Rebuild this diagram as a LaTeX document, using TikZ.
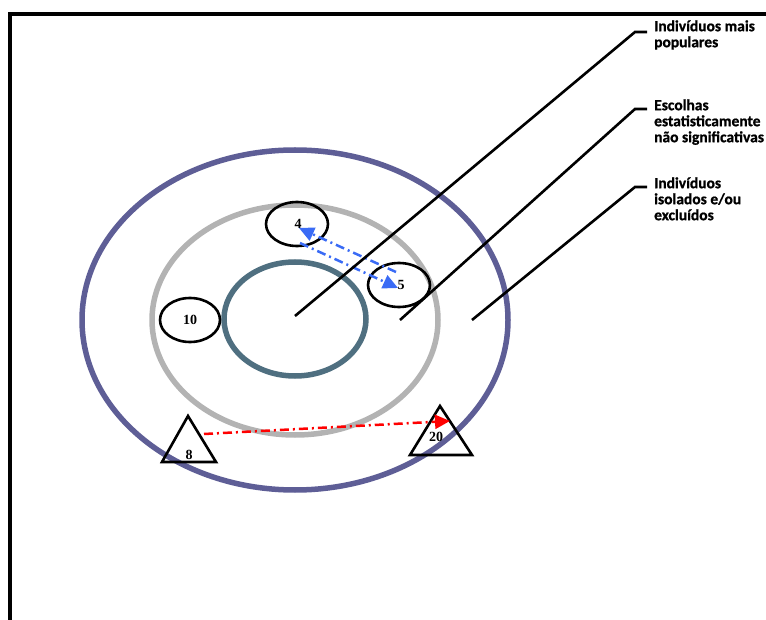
\documentclass[tikz,border=0pt]{standalone}
\usepackage{fontspec}
\setmainfont{Liberation Serif}
\newfontfamily\lblfont[FakeBold=1,UprightFont={* Bold}]{Carlito}
\usetikzlibrary{shapes.geometric,arrows.meta}
\definecolor{outerc}{HTML}{5E5E96}
\definecolor{midc}{HTML}{B3B3B3}
\definecolor{innerc}{HTML}{4F6F80}
\definecolor{bluec}{HTML}{3A6BF5}
\definecolor{redc}{HTML}{FF0000}
\newcommand{\toprule}{\rule{0pt}{14pt}}
\tikzset{
  ring/.style={line width=5.5pt},
  member/.style={draw=black, line width=2.6pt, ellipse, minimum width=62pt, minimum height=44pt, inner sep=0pt, font=\bfseries\fontsize{14}{14}\selectfont},
  tri/.style={draw=black, line width=2.6pt, line join=miter},
  num/.style={font=\bfseries\fontsize{14}{14}\selectfont, inner sep=0pt},
  leader/.style={draw=black, line width=2.6pt},
  lbl/.style={anchor=north west, align=left, inner sep=0pt, font=\lblfont\fontsize{15.5}{16}\selectfont},
  dashdot/.style={dash pattern=on 9pt off 4pt on 2pt off 4pt, line width=2.5pt},
}
\begin{document}
\begin{tikzpicture}[x=1pt,y=-1pt]
\useasboundingbox (0,0) rectangle (766,620);
% frame
\draw[line width=4pt] (10,622) -- (10,14) -- (768,14);
% rings
\draw[ring, outerc] (295,320) ellipse [x radius=213, y radius=170];
\draw[ring, midc] (295,320) ellipse [x radius=143, y radius=115];
\draw[ring, innerc] (295,319) ellipse [x radius=71, y radius=57];
% members
\node[member] (n4) at (297,224) {};
\node[num] at (298,224) {4};
\node[member] (n5) at (399,285) {};
\node[num] at (401,285) {5};
\node[member, minimum width=60pt] (n10) at (190,320) {10};
% triangles
\coordinate (t8a) at (188,416);
\coordinate (t8b) at (216,462);
\coordinate (t8c) at (162,462);
\draw[tri] (t8a) -- (t8b) -- (t8c) -- cycle;
\node[num] (n8) at (189,455) {8};
\coordinate (t20a) at (440,406);
\coordinate (t20b) at (472,455);
\coordinate (t20c) at (410,455);
\draw[tri] (t20a) -- (t20b) -- (t20c) -- cycle;
\node[num] (n20) at (436,437) {20};
% blue reciprocal choice
\coordinate (b1s) at (396,272);
\coordinate (b1e) at (299,228);
\coordinate (b2s) at (300,243);
\coordinate (b2e) at (398,288);
\draw[dashdot, bluec, -{Triangle[length=15pt,width=14pt]}] (b1s) -- (b1e);
\draw[dashdot, bluec, -{Triangle[length=15pt,width=14pt]}] (b2s) -- (b2e);
% red choice
\coordinate (r1) at (204,434);
\coordinate (r2) at (450,421);
\draw[dashdot, redc, -{Triangle[length=15pt,width=14pt]}] (r1) -- (r2);
% leaders
\coordinate (c1) at (295,316);
\coordinate (k1) at (635,32);
\coordinate (e1) at (647,32);
\coordinate (c2) at (400,320);
\coordinate (k2) at (635,109);
\coordinate (e2) at (647,109);
\coordinate (c3) at (472,320);
\coordinate (k3) at (635,187);
\coordinate (e3) at (647,187);
\draw[leader] (c1) -- (k1) -- (e1);
\draw[leader] (c2) -- (k2) -- (e2);
\draw[leader] (c3) -- (k3) -- (e3);
\node[lbl] (l1) at (654,17) {\toprule Indivíduos mais\\populares};
\node[lbl] (l2) at (654,96) {\toprule Escolhas\\estatisticamente\\não significativas};
\node[lbl] (l3) at (654,174) {\toprule Indivíduos\\isolados e/ou\\excluídos};
\end{tikzpicture}
\end{document}
